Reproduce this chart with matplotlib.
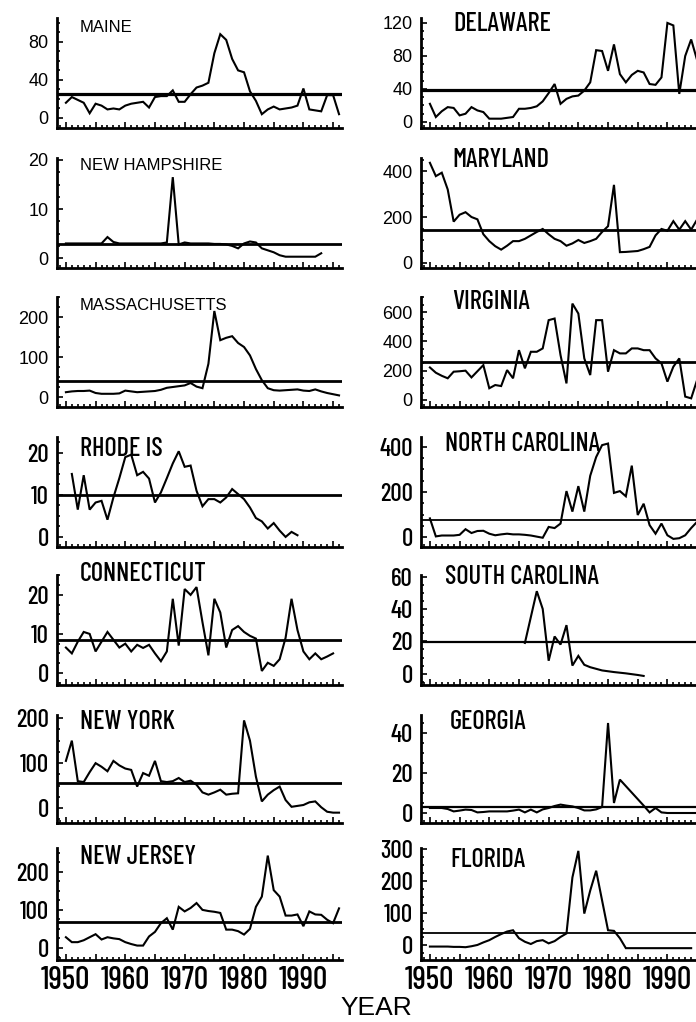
import matplotlib
matplotlib.use('Agg')
import matplotlib.pyplot as plt
from matplotlib import font_manager

# values (annual counts per state)
maine_yr = list(range(1950, 1997))
maine = [16, 22, 19, 16, 5, 15, 13, 9, 10, 9,
         13, 15, 16, 17, 11, 22, 23, 23, 29, 17,
         17, 25, 32, 34, 37, 68, 88, 82, 62, 50,
         48, 28, 18, 4, 9, 12, 9, 10, 11, 13,
         31, 9, 8, 7, 24, 24, 4]

nh_yr = list(range(1950, 1994))
nh = [3.0, 3.0, 3.0, 3.0, 3.0, 3.0, 3.0, 4.3, 3.3, 3.0,
      3.0, 3.0, 3.0, 3.0, 3.0, 3.0, 3.0, 3.2, 16.5, 2.8,
      3.2, 3.0, 3.0, 3.0, 3.0, 2.9, 2.9, 2.8, 2.5, 2.0,
      3.0, 3.4, 3.2, 2.0, 1.6, 1.2, 0.6, 0.3, 0.3, 0.3,
      0.3, 0.3, 0.3, 1.0]

mass_yr = list(range(1950, 1997))
mass = [12, 14, 15, 15, 16, 10, 8, 8, 8, 9,
        16, 14, 12, 13, 14, 15, 18, 23, 25, 27,
        29, 35, 26, 22, 83, 215, 142, 148, 152, 135,
        125, 104, 70, 42, 22, 17, 16, 17, 18, 19,
        16, 15, 19, 14, 10, 7, 4]

ri_yr = list(range(1951, 1990))
ri = [15, 6.5, 14.7, 6.5, 8.2, 8.6, 4.1, 9.4, 14, 19,
      19.6, 14.7, 15.5, 13.9, 8.2, 10.6, 14, 17.5, 20.4, 16.7,
      17, 11, 7.3, 9, 9, 8.2, 9.4, 11.4, 10.2, 9,
      7, 4.5, 3.7, 2, 3.3, 1.5, 0, 1.2, 0.4]

ct_yr = list(range(1950, 1996))
ct = [6.5, 5, 8, 10.5, 10, 5.5, 8, 10.5, 8.5, 6.5,
      7.5, 5.5, 7.2, 6.4, 7.2, 5, 3, 5.5, 19, 7,
      21.5, 20, 22, 13, 4.5, 19, 15.5, 6.5, 11, 12,
      10.5, 9.5, 8.8, 0.5, 2.6, 1.8, 3.5, 9, 19, 11,
      5.5, 3.5, 5, 3.5, 4.2, 5]

ny_yr = list(range(1950, 1997))
ny = [105, 150, 60, 58, 80, 100, 92, 82, 105, 95,
      88, 85, 48, 78, 72, 105, 60, 58, 60, 67,
      58, 61, 52, 35, 30, 35, 41, 30, 32, 33,
      195, 150, 70, 15, 30, 40, 48, 18, 3, 5,
      7, 13, 15, 2, -8, -10, -10]

nj_yr = list(range(1950, 1997))
nj = [28, 15, 15, 20, 28, 36, 22, 28, 25, 23,
      15, 10, 6, 6, 30, 42, 65, 78, 48, 108,
      96, 105, 118, 100, 97, 95, 92, 48, 48, 44,
      35, 50, 108, 135, 243, 152, 135, 85, 85, 88,
      57, 96, 88, 87, 74, 65, 104]

de_yr = list(range(1950, 1997))
de = [22, 6, 13, 18, 17, 8, 10, 18, 14, 12,
      4, 4, 4, 5, 6, 16, 16, 17, 19, 25,
      35, 46, 22, 28, 31, 32, 38, 48, 87, 86,
      62, 94, 58, 48, 57, 62, 60, 46, 45, 54,
      120, 117, 34, 80, 100, 75, 60]

md_yr = list(range(1950, 1997))
md = [436, 378, 393, 320, 180, 210, 221, 200, 190, 125,
      95, 73, 58, 75, 95, 95, 105, 120, 135, 148,
      125, 105, 95, 75, 85, 100, 87, 95, 105, 135,
      160, 340, 47, 48, 50, 52, 60, 70, 120, 148,
      140, 182, 145, 182, 145, 189, 150]

va_yr = list(range(1950, 1997))
va = [222, 186, 165, 148, 193, 196, 200, 154, 196, 238,
      80, 102, 95, 204, 148, 340, 216, 329, 329, 352,
      545, 556, 306, 113, 658, 590, 284, 170, 545, 545,
      193, 340, 318, 318, 352, 352, 340, 340, 284, 250,
      125, 227, 284, 23, 11, 136, 200]

nc_yr = list(range(1950, 1997))
nc = [83, 3, 7, 7, 7, 10, 35, 18, 27, 28,
      15, 8, 12, 15, 12, 12, 10, 7, 2, -3,
      45, 40, 60, 204, 113, 226, 113, 272, 355, 408,
      415, 196, 204, 181, 317, 98, 148, 53, 15, 60,
      8, -8, -5, 8, 40, 68, 100]

sc_yr = list(range(1966, 1987))
sc = [19, 35, 51, 40, 8, 23, 18, 30, 5, 11,
      5.5, 4, 3, 2, 1.5, 1, 0.6, 0.2, -0.3, -0.8, -1.4]

ga_yr = list(range(1950, 1983)) + [1986, 1987, 1988, 1989, 1990, 1991, 1992, 1993, 1994, 1995, 1996]
ga = [2.5, 2.5, 2.5, 2, 0.8, 1.2, 1.7, 1.5, 0.3, 0.5,
      0.8, 0.8, 0.8, 0.8, 1.2, 1.7, 0.3, 1.7, 0.3, 1.8,
      2.5, 3.5, 4.2, 3.7, 3.3, 2.5, 1.3, 1.3, 1.8, 3,
      45, 5, 16.7,
      3.7, 0.3, 2.5, 0.3, 0, 0, 0, 0, 0, 0, 0]

fl_yr = list(range(1950, 1995))
fl = [-5, -5, -5, -5, -6, -6, -7, -4, 0, 8,
      15, 25, 34, 42, 46, 21, 10, 3, 12, 15,
      5, 12, 25, 36, 211, 294, 98, 170, 232, 139,
      46, 44, 21, -10, -10, -10, -10, -10, -10, -10,
      -10, -10, -10, -10, -10]

# long-term means drawn as horizontal lines
means = {'MAINE': 25, 'NEW HAMPSHIRE': 2.9, 'MASSACHUSETTS': 39, 'RHODE IS': 10,
         'CONNECTICUT': 8.5, 'NEW YORK': 56, 'NEW JERSEY': 68, 'DELAWARE': 39,
         'MARYLAND': 145, 'VIRGINIA': 261, 'NORTH CAROLINA': 78,
         'SOUTH CAROLINA': 19.5, 'GEORGIA': 3, 'FLORIDA': 36}

decades = [1950, 1960, 1970, 1980, 1990]

# the scan's lettering looks squeezed: pick a condensed face if there is one
have = {f.name for f in font_manager.fontManager.ttflist}
regular = ['Liberation Sans', 'DejaVu Sans']
if 'Barlow Condensed' in have:
    squeezed, sq_stretch, sq_scale = ['Barlow Condensed', 'DejaVu Sans'], 'normal', 1.0
else:
    squeezed, sq_stretch, sq_scale = ['DejaVu Sans'], 'condensed', 0.8

W, H = 696, 1022
fig = plt.figure(figsize=(W / 100, H / 100), dpi=100)

row_top = [18, 158, 297, 437, 575, 715, 848]
row_bot = [128, 268, 407, 547, 685, 823, 960]
col_left = [57, 421]
ax_w = 285

# name, years, values, ylim, y label step, col, row, plain font?, title (x, y) px, mean lw
panels = [
    ('MAINE', maine_yr, maine, (-10.5, 105), 40, 0, 0, True, (80, 20), 2.3),
    ('NEW HAMPSHIRE', nh_yr, nh, (-2, 20.4), 10, 0, 1, True, (80, 158), 2.0),
    ('MASSACHUSETTS', mass_yr, mass, (-25, 250), 100, 0, 2, True, (80, 298), 2.0),
    ('RHODE IS', ri_yr, ri, (-2.4, 23.8), 10, 0, 3, False, (80, 437), 2.0),
    ('CONNECTICUT', ct_yr, ct, (-3.1, 25.1), 10, 0, 4, False, (80, 562), 2.0),
    ('NEW YORK', ny_yr, ny, (-33, 207), 100, 0, 5, False, (80, 710), 2.0),
    ('NEW JERSEY', nj_yr, nj, (-32, 263), 100, 0, 6, False, (80, 845), 2.0),
    ('DELAWARE', de_yr, de, (-7.3, 126), 40, 1, 0, True, (453, 12), 2.3),
    ('MARYLAND', md_yr, md, (-22, 457), 200, 1, 1, True, (452, 148), 2.0),
    ('VIRGINIA', va_yr, va, (-48, 703), 200, 1, 2, True, (452, 290), 2.0),
    ('NORTH CAROLINA', nc_yr, nc, (-44, 444), 200, 1, 3, False, (445, 432), 1.3),
    ('SOUTH CAROLINA', sc_yr, sc, (-7, 61), 20, 1, 4, False, (445, 565), 1.6),
    ('GEORGIA', ga_yr, ga, (-5, 49), 20, 1, 5, False, (450, 710), 1.6),
    ('FLORIDA', fl_yr, fl, (-47, 303), 100, 1, 6, False, (450, 848), 1.3),
]

for name, yrs, vals, ylim, step, col, row, plain, (tx, ty), mlw in panels:
    left = col_left[col] / W
    bottom = 1 - row_bot[row] / H
    height = (row_bot[row] - row_top[row]) / H
    ax = fig.add_axes([left, bottom, ax_w / W, height])

    ax.plot(yrs, vals, color='black', lw=1.5, solid_joinstyle='miter')
    ax.axhline(means[name], color='black', lw=mlw)

    ax.set_xlim(1948.5, 1996.5)
    ax.set_ylim(*ylim)
    for side in ['top', 'right']:
        ax.spines[side].set_visible(False)
    for side in ['left', 'bottom']:
        ax.spines[side].set_linewidth(2.0)

    if plain:
        fkw = dict(fontfamily=regular, fontsize=13)
    else:
        fkw = dict(fontfamily=squeezed, fontstretch=sq_stretch,
                   fontsize=18 * sq_scale, fontweight='medium')

    yt = [v for v in range(0, int(ylim[1]) + 1, step)]
    ax.set_yticks(yt, [str(v) for v in yt], **fkw)
    minor_y = [k * step / 4 for k in range(-4, int(ylim[1] / (step / 4)) + 1)
               if ylim[0] <= k * step / 4 <= ylim[1]]
    ax.set_yticks(minor_y, minor=True)

    xt = list(range(1950, 1996, 5))
    if row == 6:
        ax.set_xticks(xt, [str(v) if v in decades else '' for v in xt],
                      fontfamily=squeezed, fontstretch=sq_stretch,
                      fontsize=23 * sq_scale, fontweight='medium')
    else:
        ax.set_xticks(xt, [''] * len(xt))
    ax.set_xticks(list(range(1949, 1997)), minor=True)

    ax.tick_params(which='both', direction='in', width=1.2, colors='black')
    ax.tick_params(which='major', length=4.5)
    ax.tick_params(which='minor', length=2.2)
    ax.tick_params(axis='y', which='major', pad=6)
    ax.tick_params(axis='x', which='major', pad=4)

    if plain and col == 0:
        fig.text(tx / W, 1 - ty / H, name, ha='left', va='top',
                 fontfamily=regular, fontsize=12)
    elif plain:
        fig.text(tx / W, 1 - ty / H, name, ha='left', va='top',
                 fontfamily=squeezed, fontstretch=sq_stretch,
                 fontsize=19 * sq_scale, fontweight='medium')
    else:
        fig.text(tx / W, 1 - ty / H, name, ha='left', va='top', **dict(fkw, fontsize=19 * sq_scale))

fig.text(376 / W, 1 - 996 / H, 'YEAR', ha='center', va='top',
         fontfamily=regular, fontsize=19)

fig.savefig('out.png', dpi=100)
